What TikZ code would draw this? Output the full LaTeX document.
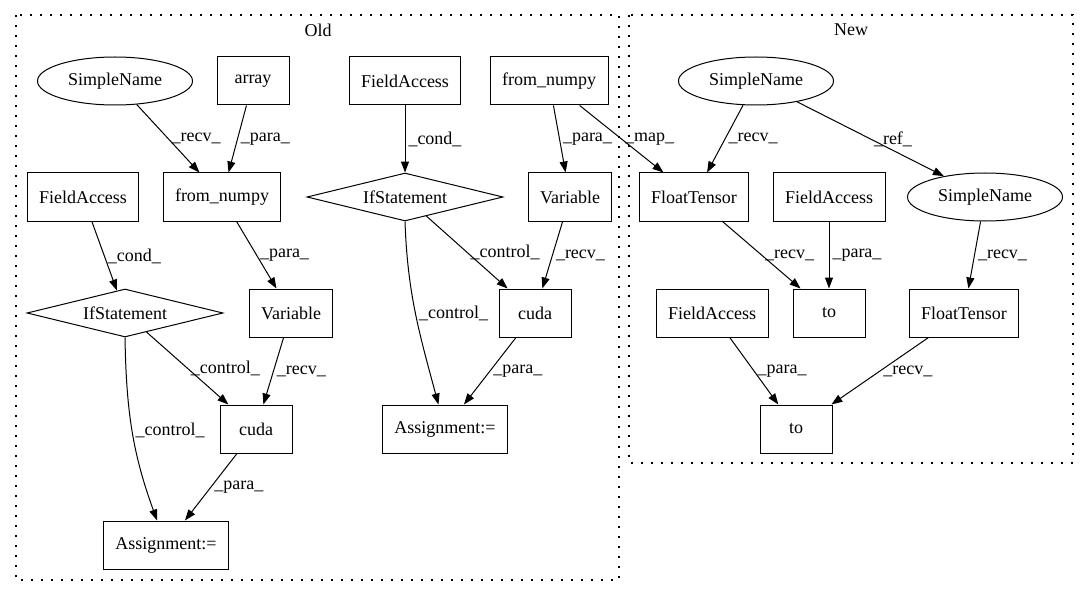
\documentclass[tikz,border=0pt]{standalone}
\usepackage{fontspec}
\setmainfont{Liberation Serif}
\usepackage{tikz}
\usetikzlibrary{shapes.geometric,arrows.meta}

\tikzset{
	box/.style={shape=rectangle,draw=black,line width=1pt,minimum width=72pt,minimum height=48pt,inner xsep=12pt},
	oval/.style={shape=ellipse,draw=black,line width=1pt,minimum width=155pt,minimum height=48pt,inner sep=0pt},
	cond/.style={shape=diamond,draw=black,line width=1pt,minimum width=196pt,minimum height=48pt,inner sep=0pt,shape aspect=4},
	arr/.style={-{Triangle[length=11pt,width=8pt]},line width=1pt},
	lbl/.style={right,inner sep=3pt},
	cluster/.style={draw=black,line width=1.2pt,dash pattern=on 2pt off 8pt},
}

\begin{document}
\begin{tikzpicture}[x=1pt,y=-1pt,font=\fontsize{18}{20}\selectfont]
	
	\useasboundingbox (0,0) rectangle (1089,596);
	\draw[cluster] (16,15) rectangle (619,580);
	\draw[cluster] (629,15) rectangle (1073,463);
	\node (old) at (318,30) {Old};
	\node (new) at (851,30) {New};
	
	\node[oval] (sn1) at (115,81)  {SimpleName};
	\node[box]  (arr) at (253,81)  {array};
	\node[box]  (fa1) at (405,81)  {FieldAccess};
	\node[box]  (fn1) at (549,81)  {from\_numpy};
	\node[box]  (fa2) at (83,197)  {FieldAccess};
	\node[box]  (fn2) at (222,197) {from\_numpy};
	\node[cond] (if1) at (405,197) {IfStatement};
	\node[box]  (var1) at (570,197) {Variable};
	\node[cond] (if2) at (125,313) {IfStatement};
	\node[box]  (var2) at (291,313) {Variable};
	\node[box]  (cu1) at (535,313) {cuda};
	\node[box]  (cu2) at (256,429) {cuda};
	\node[box]  (as1) at (445,429) {Assignment:=};
	\node[box]  (as2) at (166,545) {Assignment:=};
	
	\node[oval] (sn2) at (756,81)  {SimpleName};
	\node[box]  (ft1) at (694,197) {FloatTensor};
	\node[box]  (fa3) at (829,197) {FieldAccess};
	\node[oval] (sn3) at (985,197) {SimpleName};
	\node[box]  (fa4) at (712,313) {FieldAccess};
	\node[box]  (to1) at (829,313) {to};
	\node[box]  (ft2) at (964,313) {FloatTensor};
	\node[box]  (to2) at (796,429) {to};
	
	\path[arr] (sn1) edge node[lbl] {\_recv\_} (fn2);
	\path[arr] (arr) edge node[lbl] {\_para\_} (fn2);
	\path[arr] (fa1) edge node[lbl] {\_cond\_} (if1);
	\path[arr] (fn1) edge node[lbl] {\_para\_} (var1);
	\path[arr] (fn1) edge node[lbl] {\_map\_} (ft1);
	\path[arr] (fa2) edge node[lbl] {\_cond\_} (if2);
	\path[arr] (fn2) edge node[lbl] {\_para\_} (var2);
	\path[arr] (if1) edge node[lbl] {\_control\_} (cu1);
	\path[arr] (if1.south) edge[out=-88,in=105] node[lbl] {\_control\_} (as1);
	\path[arr] (var1) edge node[lbl] {\_recv\_} (cu1);
	\path[arr] (if2) edge node[lbl] {\_control\_} (cu2);
	\path[arr] (if2.south) edge[out=-89,in=110] node[lbl] {\_control\_} (as2);
	\path[arr] (var2) edge node[lbl] {\_recv\_} (cu2);
	\path[arr] (cu1) edge node[lbl] {\_para\_} (as1);
	\path[arr] (cu2) edge node[lbl] {\_para\_} (as2);
	
	\path[arr] (sn2) edge node[lbl] {\_recv\_} (ft1);
	\path[arr] (sn2) edge node[lbl] {\_ref\_} (sn3);
	\path[arr] (ft1) edge node[lbl] {\_recv\_} (to1);
	\path[arr] (fa3) edge node[lbl] {\_para\_} (to1);
	\path[arr] (sn3) edge node[lbl] {\_recv\_} (ft2);
	\path[arr] (fa4) edge node[lbl] {\_para\_} (to2);
	\path[arr] (ft2) edge node[lbl] {\_recv\_} (to2);
	
\end{tikzpicture}
\end{document}
